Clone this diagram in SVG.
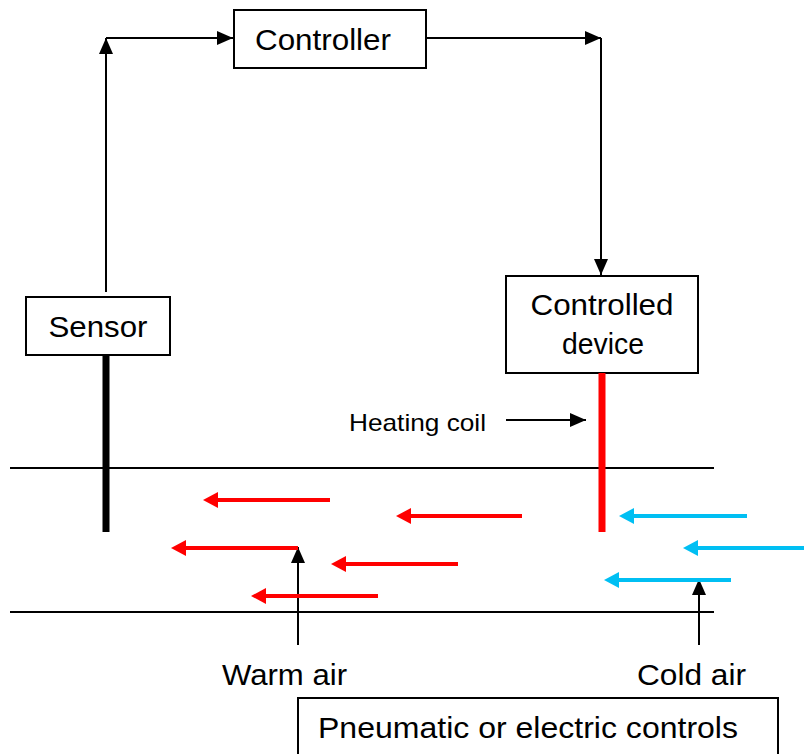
<svg xmlns="http://www.w3.org/2000/svg" width="804" height="754" viewBox="0 0 804 754">
<style>
.box{fill:#fff;stroke:#000;stroke-width:2}
.lbl{font-family:"Liberation Sans",Arial,sans-serif;font-size:30px;fill:#000}
.small{font-family:"Liberation Sans",Arial,sans-serif;font-size:24px;fill:#000}
.conn{fill:none;stroke:#000;stroke-width:2}
.duct{stroke:#000;stroke-width:2}
.warm{stroke:#FF0000;stroke-width:4}
.cold{stroke:#00BFF3;stroke-width:4}
</style>
<defs>
<marker id="ah" viewBox="0 0 16 14" markerUnits="userSpaceOnUse" markerWidth="16" markerHeight="14" refX="16" refY="7" orient="auto"><path d="M0,0 L16,7 L0,14 z" fill="#000"/></marker>
<marker id="ahr" viewBox="0 0 15 16" markerUnits="userSpaceOnUse" markerWidth="15" markerHeight="16" refX="3" refY="8" orient="auto"><path d="M0,0 L15,8 L0,16 z" fill="#FF0000"/></marker>
<marker id="ahb" viewBox="0 0 15 16" markerUnits="userSpaceOnUse" markerWidth="15" markerHeight="16" refX="3" refY="8" orient="auto"><path d="M0,0 L15,8 L0,16 z" fill="#00BFF3"/></marker>
</defs>

<g id="duct">
<line class="duct" x1="10" y1="468" x2="714" y2="468"/>
<line class="duct" x1="10" y1="612" x2="714" y2="612"/>
</g>

<g id="sensor">
<rect class="box" x="26" y="297" width="144" height="58"/>
<text class="lbl" x="98" y="337" text-anchor="middle" textLength="99" lengthAdjust="spacingAndGlyphs">Sensor</text>
<rect x="102.5" y="355" width="7" height="177" fill="#000"/>
</g>

<g id="controller">
<rect class="box" x="234" y="10" width="192" height="58"/>
<text class="lbl" x="323" y="50" text-anchor="middle" textLength="136" lengthAdjust="spacingAndGlyphs">Controller</text>
</g>

<g id="controlled-device">
<rect class="box" x="506" y="276" width="192" height="97"/>
<text class="lbl" x="602" y="315" text-anchor="middle" textLength="143" lengthAdjust="spacingAndGlyphs">Controlled</text>
<text class="lbl" x="603" y="354" text-anchor="middle" textLength="82" lengthAdjust="spacingAndGlyphs">device</text>
<rect x="598.5" y="373" width="7" height="159" fill="#FF0000"/>
</g>

<g id="heating-coil-label">
<text class="small" x="349" y="431" textLength="137" lengthAdjust="spacingAndGlyphs">Heating coil</text>
</g>

<g id="warm-air-label">
<text class="lbl" x="222" y="685" textLength="125" lengthAdjust="spacingAndGlyphs">Warm air</text>
</g>

<g id="cold-air-label">
<text class="lbl" x="637" y="685" textLength="109" lengthAdjust="spacingAndGlyphs">Cold air</text>
</g>

<g id="controls-box">
<rect class="box" x="298" y="698" width="480" height="70"/>
<text class="lbl" x="318" y="738" textLength="420" lengthAdjust="spacingAndGlyphs">Pneumatic or electric controls</text>
</g>

<g id="connectors">
<polyline class="conn" points="106,292 106,38" marker-end="url(#ah)"/>
<polyline class="conn" points="106,38 233,38" marker-end="url(#ah)"/>
<polyline class="conn" points="427,38 601,38" marker-end="url(#ah)"/>
<polyline class="conn" points="601,38 601,275" marker-end="url(#ah)"/>
<line class="conn" x1="506" y1="420" x2="586" y2="420" marker-end="url(#ah)"/>
<line class="conn" x1="298" y1="645" x2="298" y2="547" marker-end="url(#ah)"/>
<line class="conn" x1="699" y1="645" x2="699" y2="579" marker-end="url(#ah)"/>

<line class="warm" x1="330" y1="500" x2="215" y2="500" marker-end="url(#ahr)"/>
<line class="warm" x1="522" y1="516" x2="408" y2="516" marker-end="url(#ahr)"/>
<line class="warm" x1="298" y1="548" x2="183" y2="548" marker-end="url(#ahr)"/>
<line class="warm" x1="458" y1="564" x2="343" y2="564" marker-end="url(#ahr)"/>
<line class="warm" x1="378" y1="596" x2="263" y2="596" marker-end="url(#ahr)"/>

<line class="cold" x1="747" y1="516" x2="631" y2="516" marker-end="url(#ahb)"/>
<line class="cold" x1="804" y1="548" x2="695" y2="548" marker-end="url(#ahb)"/>
<line class="cold" x1="731" y1="580" x2="616" y2="580" marker-end="url(#ahb)"/>
</g>
</svg>
